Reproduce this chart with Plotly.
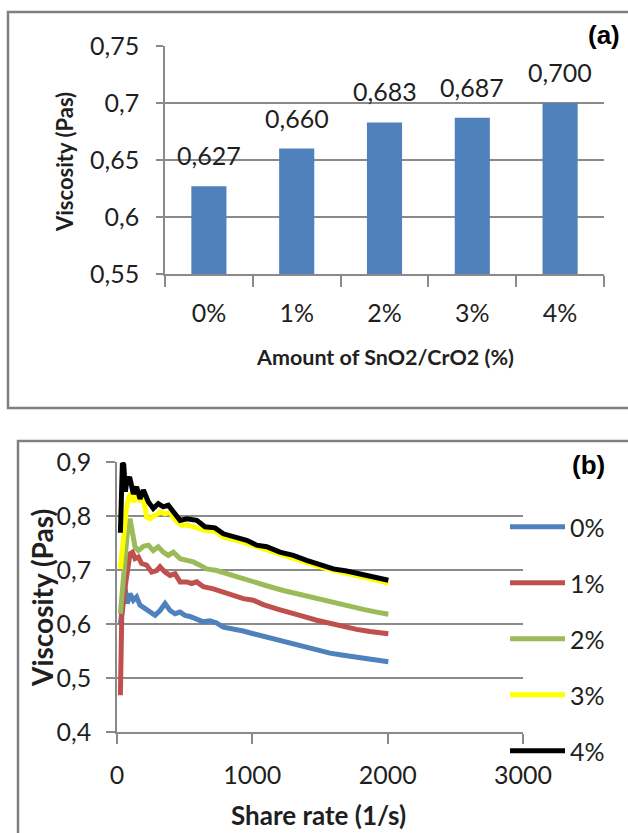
import plotly.graph_objects as go

# ---------------- data ----------------
categories = ["0%", "1%", "2%", "3%", "4%"]
viscosity_avg = [0.627, 0.660, 0.683, 0.687, 0.700]

series_names = ["0%", "1%", "2%", "3%", "4%"]

rate_0 = [25, 59, 76, 96, 121, 145, 170, 207, 244, 281, 318, 355, 392, 429, 466, 502, 539, 589, 638, 687,
          736, 786, 860, 933, 1007, 1081, 1180, 1278, 1377, 1475, 1574, 1672, 1771, 1869, 2005]
visc_0 = [0.600, 0.668, 0.638, 0.656, 0.644, 0.650, 0.635, 0.628, 0.622, 0.616, 0.625, 0.638, 0.625, 0.619,
          0.622, 0.616, 0.614, 0.610, 0.604, 0.606, 0.602, 0.594, 0.591, 0.587, 0.582, 0.577, 0.571, 0.565,
          0.559, 0.552, 0.546, 0.542, 0.538, 0.534, 0.530]

rate_1 = [25, 30, 35, 55, 75, 96, 115, 133, 158, 182, 219, 256, 293, 318, 355, 392, 429, 466, 515, 552, 589,
          638, 712, 786, 860, 933, 1007, 1081, 1180, 1278, 1377, 1475, 1574, 1672, 1771, 1869, 2005]
visc_1 = [0.468, 0.560, 0.613, 0.660, 0.700, 0.730, 0.733, 0.721, 0.724, 0.712, 0.709, 0.696, 0.699, 0.706,
          0.696, 0.690, 0.693, 0.678, 0.678, 0.675, 0.678, 0.669, 0.665, 0.659, 0.653, 0.647, 0.644, 0.636,
          0.628, 0.622, 0.614, 0.607, 0.601, 0.596, 0.590, 0.586, 0.582]

rate_2 = [25, 50, 75, 96, 108, 121, 133, 158, 195, 232, 268, 305, 342, 379, 416, 466, 515, 564, 613, 663,
          736, 810, 884, 958, 1032, 1130, 1229, 1328, 1426, 1525, 1623, 1722, 1820, 1919, 2005]
visc_2 = [0.619, 0.700, 0.765, 0.795, 0.780, 0.761, 0.743, 0.736, 0.744, 0.746, 0.736, 0.743, 0.733, 0.727,
          0.733, 0.721, 0.718, 0.715, 0.709, 0.702, 0.699, 0.693, 0.687, 0.681, 0.676, 0.669, 0.662, 0.656,
          0.649, 0.644, 0.638, 0.631, 0.627, 0.622, 0.618]

rate_3 = [25, 45, 70, 91, 108, 121, 145, 170, 195, 219, 244, 281, 318, 355, 392, 429, 478, 527, 589, 650,
          724, 786, 884, 958, 1032, 1130, 1229, 1328, 1426, 1525, 1623, 1722, 1820, 1919, 2005]
visc_3 = [0.702, 0.760, 0.815, 0.838, 0.841, 0.826, 0.835, 0.829, 0.832, 0.798, 0.795, 0.801, 0.807, 0.804,
          0.807, 0.792, 0.783, 0.783, 0.778, 0.773, 0.772, 0.761, 0.755, 0.749, 0.743, 0.735, 0.727, 0.719,
          0.712, 0.704, 0.698, 0.692, 0.687, 0.682, 0.676]

rate_4 = [25, 40, 50, 62, 75, 96, 121, 145, 170, 195, 232, 268, 305, 342, 379, 416, 466, 515, 589, 650,
          724, 786, 884, 958, 1032, 1106, 1204, 1303, 1401, 1500, 1599, 1697, 1796, 1894, 2005]
visc_4 = [0.769, 0.898, 0.895, 0.845, 0.870, 0.869, 0.841, 0.854, 0.832, 0.848, 0.826, 0.814, 0.823, 0.817,
          0.820, 0.807, 0.792, 0.795, 0.792, 0.780, 0.778, 0.767, 0.761, 0.755, 0.746, 0.743, 0.733, 0.727,
          0.718, 0.710, 0.702, 0.698, 0.692, 0.687, 0.681]

rates = [rate_0, rate_1, rate_2, rate_3, rate_4]
viscs = [visc_0, visc_1, visc_2, visc_3, visc_4]
line_colors = ["#4F81BD", "#C0504D", "#9BBB59", "#FFFF00", "#000000"]

# ---------------- style ----------------
W, H = 628, 833
FONT = "Lato, 'Open Sans', sans-serif"
TXT = "#1f1f1f"
GRID = "#8a8a8a"


def px_x(p):
    return p / W


def px_y(p):
    return 1 - p / H


fig = go.Figure()

fig.add_trace(go.Bar(x=categories, y=viscosity_avg, marker_color="#4F81BD",
                     width=0.4, showlegend=False, xaxis="x", yaxis="y", hoverinfo="skip"))

for name, xs, ys, col in zip(series_names, rates, viscs, line_colors):
    fig.add_trace(go.Scatter(x=xs, y=ys, mode="lines", name=name, legendgroup=name,
                             line=dict(color=col, width=5), xaxis="x2", yaxis="y2"))

annotations = []
for c, v in zip(categories, viscosity_avg):
    annotations.append(dict(x=c, y=v, xref="x", yref="y", text=f"{v:.3f}".replace(".", ","),
                            xanchor="center", yanchor="middle",
                            showarrow=False, yshift=31, font=dict(size=25, color=TXT, family=FONT)))


def paper_text(x, y, text, size, angle=0, family=FONT, color=TXT):
    return dict(x=px_x(x), y=px_y(y), xref="paper", yref="paper", text=text, textangle=angle,
                xanchor="center", yanchor="middle", showarrow=False,
                font=dict(size=size, color=color, family=family))


annotations += [
    paper_text(64, 162, "<b>Viscosity (Pas)</b>", 22, angle=-90),
    paper_text(385, 357, "<b>Amount of SnO2/CrO2 (%)</b>", 21.5),
    paper_text(604, 35, "<b>(a)</b>", 26, family="Liberation Sans, Arial, sans-serif", color="#000"),
    paper_text(42, 598, "<b>Viscosity (Pas)</b>", 28, angle=-90),
    paper_text(318, 815, "<b>Share rate (1/s)</b>", 26),
    paper_text(588, 465, "<b>(b)</b>", 26, family="Liberation Sans, Arial, sans-serif", color="#000"),
]

shapes = [
    dict(type="rect", xref="paper", yref="paper", x0=px_x(8), x1=px_x(640), y0=px_y(408), y1=px_y(12),
         line=dict(color="#808080", width=2.5), fillcolor="rgba(0,0,0,0)", layer="below"),
    dict(type="rect", xref="paper", yref="paper", x0=px_x(18), x1=px_x(640), y0=px_y(850), y1=px_y(441),
         line=dict(color="#808080", width=2.5), fillcolor="rgba(0,0,0,0)", layer="below"),
]

tickfont = dict(size=25, color=TXT, family=FONT)

fig.update_layout(
    template=go.layout.Template(),
    width=W, height=H, autosize=False,
    margin=dict(l=0, r=0, t=0, b=0, pad=0, autoexpand=False),
    paper_bgcolor="white", plot_bgcolor="rgba(0,0,0,0)",
    separators=",.",
    font=dict(family=FONT, color=TXT),
    annotations=annotations, shapes=shapes,
    xaxis=dict(domain=[px_x(165), px_x(604)], anchor="y", type="category",
               categoryorder="array", categoryarray=categories, automargin=False,
               tickson="boundaries", ticks="outside", ticklen=11, tickcolor=GRID, tickwidth=1.5,
               showline=True, linecolor=GRID, linewidth=1.5, showgrid=False,
               tickfont=tickfont, ticklabelstandoff=16),
    yaxis=dict(domain=[px_y(274), px_y(46)], anchor="x", range=[0.55, 0.75], dtick=0.05, tick0=0.55,
               automargin=False,
               ticks="outside", ticklen=7, tickcolor=GRID, tickwidth=1.5,
               showline=True, linecolor=GRID, linewidth=1.5,
               showgrid=True, gridcolor=GRID, gridwidth=1.5, zeroline=False,
               tickfont=tickfont, ticklabelstandoff=12),
    xaxis2=dict(domain=[px_x(117), px_x(523)], anchor="y2", range=[0, 3000], dtick=1000, tick0=0,
                automargin=False,
                ticks="outside", ticklen=10, tickcolor=GRID, tickwidth=1.5,
                showline=True, linecolor=GRID, linewidth=1.5, showgrid=False, zeroline=False,
                tickfont=tickfont, ticklabelstandoff=10),
    yaxis2=dict(domain=[px_y(732), px_y(462)], anchor="x2", range=[0.4, 0.9], dtick=0.1, tick0=0.4,
                automargin=False,
                ticks="outside", ticklen=9, tickcolor=GRID, tickwidth=1.5,
                showline=True, linecolor=GRID, linewidth=1.5,
                showgrid=True, gridcolor=GRID, gridwidth=1.5, zeroline=False,
                tickfont=tickfont, ticklabelstandoff=10),
    legend=dict(x=px_x(505), y=px_y(504), xanchor="left", yanchor="top",
                font=dict(size=25, color=TXT, family=FONT),
                tracegroupgap=20.5, bgcolor="rgba(0,0,0,0)", itemwidth=55),
    showlegend=True,
)

fig.write_html("out.html",
               config={"displayModeBar": False},
               post_script="document.body.style.margin='0';document.body.style.overflow='hidden';")
